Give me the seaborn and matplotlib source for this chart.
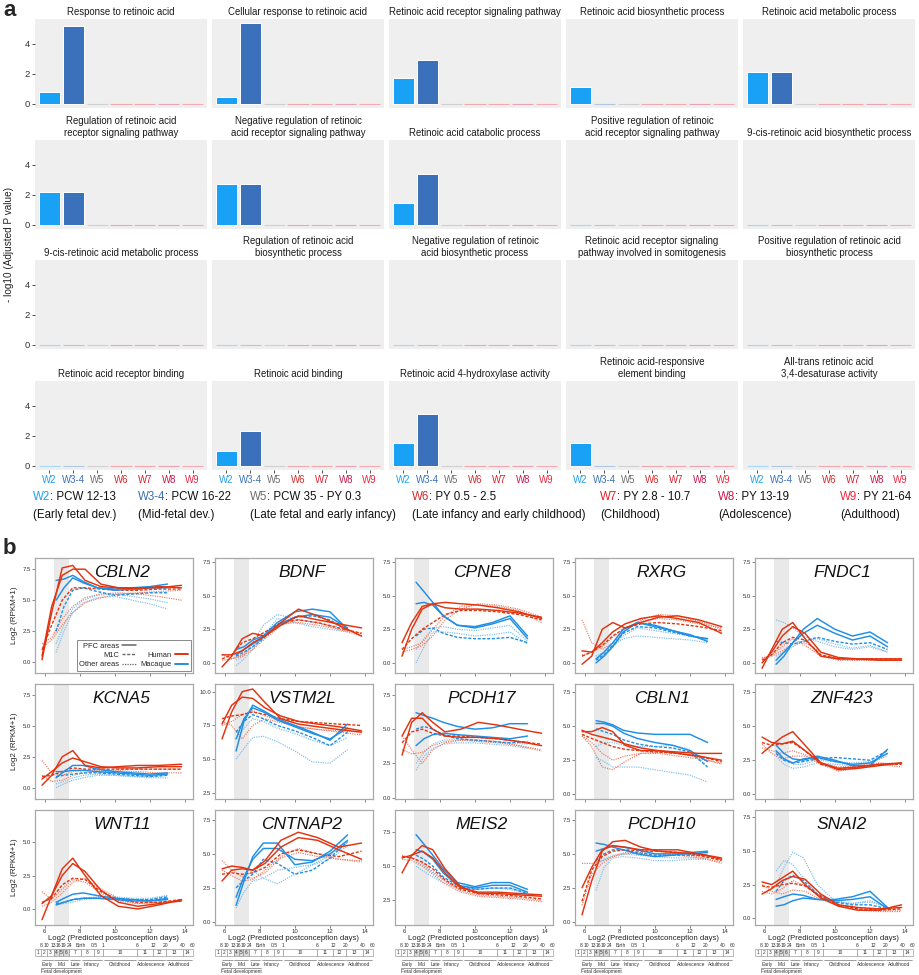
import numpy as np
import pandas as pd
import matplotlib
matplotlib.use("Agg")
import matplotlib.pyplot as plt
import seaborn as sns
from matplotlib.lines import Line2D
from matplotlib.patches import Rectangle
from matplotlib.transforms import blended_transform_factory
import matplotlib.colors as mcolors

sns.set_theme(style="white")
plt.rcParams["font.family"] = ["Liberation Sans", "DejaVu Sans"]

# ------------------------------------------------------------------ panel a data
WINDOWS = ["W2", "W3-4", "W5", "W6", "W7", "W8", "W9"]
GO_TERMS = [
    "Response to retinoic acid",
    "Cellular response to retinoic acid",
    "Retinoic acid receptor signaling pathway",
    "Retinoic acid biosynthetic process",
    "Retinoic acid metabolic process",
    "Regulation of retinoic acid\nreceptor signaling pathway",
    "Negative regulation of retinoic\nacid receptor signaling pathway",
    "Retinoic acid catabolic process",
    "Positive regulation of retinoic\nacid receptor signaling pathway",
    "9-cis-retinoic acid biosynthetic process",
    "9-cis-retinoic acid metabolic process",
    "Regulation of retinoic acid\nbiosynthetic process",
    "Negative regulation of retinoic\nacid biosynthetic process",
    "Retinoic acid receptor signaling\npathway involved in somitogenesis",
    "Positive regulation of retinoic acid\nbiosynthetic process",
    "Retinoic acid receptor binding",
    "Retinoic acid binding",
    "Retinoic acid 4-hydroxylase activity",
    "Retinoic acid-responsive\nelement binding",
    "All-trans retinoic acid\n3,4-desaturase activity",
]
W2_VALUES = [0.8, 0.45, 1.7, 1.15, 2.15, 2.2, 2.75, 1.45, 0, 0,
             0, 0, 0, 0, 0, 0, 1.0, 1.5, 1.5, 0]
W34_VALUES = [5.2, 5.4, 2.95, 0, 2.15, 2.2, 2.75, 3.4, 0, 0,
              0, 0, 0, 0, 0, 0, 2.35, 3.45, 0, 0]
W5_VALUES = [0, 0, 0, 0, 0, 0, 0, 0, 0, 0, 0, 0, 0, 0, 0, 0, 0, 0, 0, 0]
W6_VALUES = [0, 0, 0, 0, 0, 0, 0, 0, 0, 0, 0, 0, 0, 0, 0, 0, 0, 0, 0, 0]
W7_VALUES = [0, 0, 0, 0, 0, 0, 0, 0, 0, 0, 0, 0, 0, 0, 0, 0, 0, 0, 0, 0]
W8_VALUES = [0, 0, 0, 0, 0, 0, 0, 0, 0, 0, 0, 0, 0, 0, 0, 0, 0, 0, 0, 0]
W9_VALUES = [0, 0, 0, 0, 0, 0, 0, 0, 0, 0, 0, 0, 0, 0, 0, 0, 0, 0, 0, 0]

WINDOW_RANGES = ["PCW 12-13", "PCW 16-22", "PCW 35 - PY 0.3", "PY 0.5 - 2.5",
                 "PY 2.8 - 10.7", "PY 13-19", "PY 21-64"]
WINDOW_STAGES = ["(Early fetal dev.)", "(Mid-fetal dev.)",
                 "(Late fetal and early infancy)",
                 "(Late infancy and early childhood)", "(Childhood)",
                 "(Adolescence)", "(Adulthood)"]

# ------------------------------------------------------------------ panel b data
HX = [5.85, 6.4, 7.0, 7.6, 8.3, 9.2, 10.2, 11.3, 12.5, 13.8]   # human ages (log2 days)
MX = [6.65, 7.1, 7.6, 8.2, 9.0, 10.0, 11.0, 12.0, 13.0]        # macaque ages (log2 days)
AREAS = ["PFC areas", "PFC areas", "M1C", "Other areas", "Other areas"]
GENES = [["CBLN2", "BDNF", "CPNE8", "RXRG", "FNDC1"],
         ["KCNA5", "VSTM2L", "PCDH17", "CBLN1", "ZNF423"],
         ["WNT11", "CNTNAP2", "MEIS2", "PCDH10", "SNAI2"]]

CBLN2_HUMAN = [[0.2, 4.0, 7.6, 7.8, 6.6, 6.1, 6.0, 6.0, 6.0, 6.2],
               [0.5, 4.5, 7.0, 7.5, 7.5, 6.3, 6.0, 5.9, 6.1, 6.0],
               [1.0, 3.0, 5.0, 6.0, 6.0, 5.9, 5.8, 5.8, 5.9, 5.9],
               [1.5, 2.0, 3.5, 4.5, 5.2, 5.5, 5.6, 5.5, 5.3, 5.0],
               [1.2, 1.8, 3.0, 4.0, 4.8, 5.2, 5.5, 5.6, 5.7, 5.8]]
CBLN2_MACAQUE = [[6.6, 6.7, 7.0, 6.5, 6.0, 5.9, 6.0, 6.1, 6.3],
                 [5.0, 6.0, 6.8, 6.4, 6.0, 5.8, 5.9, 6.0, 6.0],
                 [2.5, 4.5, 5.8, 6.0, 5.7, 5.4, 5.5, 5.6, 5.6],
                 [0.8, 2.5, 4.0, 4.8, 5.2, 5.3, 5.0, 4.7, 4.3],
                 [1.5, 3.0, 4.3, 5.0, 5.4, 5.5, 5.3, 5.1, 4.8]]
BDNF_HUMAN = [[-0.3, 0.5, 1.8, 2.2, 2.0, 3.0, 4.0, 3.5, 2.8, 2.0],
              [0.6, 0.6, 0.9, 1.5, 2.0, 2.8, 3.5, 3.2, 2.9, 2.6],
              [0.3, 0.6, 1.5, 1.8, 2.3, 3.0, 3.2, 3.0, 2.6, 2.2],
              [0.6, 0.3, 0.5, 1.0, 1.8, 2.8, 3.2, 3.0, 2.5, 2.0],
              [0.2, 0.3, 0.6, 1.2, 2.0, 2.9, 3.0, 2.8, 2.5, 2.2]]
BDNF_MACAQUE = [[1.0, 1.2, 1.7, 2.0, 3.0, 3.8, 4.0, 3.8, 2.5],
                [0.6, 1.0, 1.4, 1.9, 2.8, 3.4, 3.6, 3.4, 2.6],
                [0.5, 0.8, 1.2, 1.8, 2.8, 3.4, 3.5, 3.2, 2.4],
                [-0.2, 0.3, 1.0, 2.0, 3.3, 3.0, 2.7, 2.5, 2.3],
                [0.2, 0.5, 1.5, 2.8, 3.6, 3.3, 3.0, 2.8, 2.5]]
CPNE8_HUMAN = [[0.5, 2.5, 4.0, 4.4, 4.5, 4.4, 4.3, 4.1, 3.8, 3.3],
               [1.5, 3.0, 4.2, 4.4, 4.1, 4.0, 4.0, 3.9, 3.7, 3.4],
               [1.0, 1.8, 2.5, 3.0, 3.6, 3.9, 3.9, 3.8, 3.6, 3.2],
               [1.0, 1.2, 1.5, 2.5, 3.5, 4.2, 4.3, 4.2, 3.9, 3.0],
               [0.8, 1.0, 1.3, 2.0, 3.2, 4.0, 4.4, 4.3, 4.0, 3.4]]
CPNE8_MACAQUE = [[6.0, 5.3, 4.5, 3.5, 2.8, 2.7, 3.0, 3.5, 2.0],
                 [4.4, 4.5, 4.3, 3.5, 2.8, 2.6, 2.9, 3.3, 1.8],
                 [2.0, 2.5, 2.6, 2.2, 1.9, 1.8, 1.8, 1.9, 1.5],
                 [0.0, 1.2, 2.3, 2.3, 2.2, 2.0, 2.1, 2.3, 1.4],
                 [1.0, 1.8, 2.6, 2.7, 2.5, 2.4, 2.6, 2.8, 1.6]]
RXRG_HUMAN = [[-0.1, 0.5, 2.5, 3.0, 2.6, 3.0, 3.4, 3.5, 3.2, 2.7],
              [0.9, 0.8, 1.5, 2.3, 2.9, 3.3, 3.5, 3.3, 3.0, 2.2],
              [0.5, 0.8, 1.3, 2.0, 2.6, 2.9, 3.0, 2.9, 2.7, 2.4],
              [3.2, 1.5, 1.0, 1.5, 2.4, 3.2, 3.6, 3.5, 3.1, 2.5],
              [0.6, 0.8, 1.2, 1.9, 2.6, 3.1, 3.3, 3.2, 2.9, 2.6]]
RXRG_MACAQUE = [[0.0, 0.5, 1.2, 2.3, 3.0, 2.8, 2.4, 2.0, 1.8],
                [0.3, 0.8, 1.5, 2.5, 3.0, 2.7, 2.4, 2.1, 1.6],
                [0.2, 0.6, 1.3, 2.2, 2.7, 2.6, 2.3, 2.0, 1.8],
                [0.5, 0.8, 1.3, 1.8, 2.0, 1.9, 1.8, 1.7, 1.5],
                [0.3, 0.6, 1.2, 2.0, 2.6, 2.4, 2.2, 2.0, 1.7]]
FNDC1_HUMAN = [[-0.4, 1.0, 2.5, 3.0, 1.8, 0.5, 0.3, 0.3, 0.2, 0.2],
               [0.0, 0.8, 2.0, 2.7, 2.2, 0.8, 0.4, 0.3, 0.3, 0.3],
               [0.2, 0.6, 1.5, 1.9, 1.7, 0.6, 0.3, 0.3, 0.3, 0.3],
               [0.4, 0.5, 0.9, 1.4, 1.5, 0.8, 0.3, 0.2, 0.2, 0.2],
               [0.3, 0.6, 1.2, 1.8, 1.3, 0.5, 0.2, 0.2, 0.2, 0.2]]
FNDC1_MACAQUE = [[-0.1, 0.5, 1.5, 2.5, 3.3, 2.5, 2.0, 2.3, 1.5],
                 [0.2, 0.8, 1.5, 2.2, 2.8, 2.2, 1.7, 2.0, 1.2],
                 [1.6, 1.5, 1.4, 1.6, 1.9, 1.6, 1.4, 1.5, 1.0],
                 [3.2, 3.0, 2.6, 2.0, 1.6, 1.2, 1.0, 1.2, 0.8],
                 [0.5, 0.8, 1.2, 1.6, 1.8, 1.4, 1.1, 1.3, 0.8]]
KCNA5_HUMAN = [[0.2, 1.0, 2.5, 3.0, 1.8, 1.6, 1.7, 1.8, 1.8, 1.9],
               [0.7, 1.3, 2.0, 2.4, 2.1, 1.7, 1.6, 1.6, 1.7, 1.7],
               [0.9, 1.0, 1.3, 1.6, 1.5, 1.5, 1.5, 1.5, 1.5, 1.5],
               [2.2, 1.2, 1.0, 1.3, 1.4, 1.4, 1.4, 1.5, 1.5, 1.5],
               [1.0, 0.5, 0.6, 1.0, 1.2, 1.3, 1.3, 1.3, 1.2, 1.2]]
KCNA5_MACAQUE = [[1.3, 1.3, 1.4, 1.4, 1.3, 1.2, 1.1, 1.0, 1.1],
                 [0.8, 1.3, 1.8, 1.8, 1.5, 1.3, 1.2, 1.1, 1.2],
                 [0.9, 1.0, 1.1, 1.2, 1.2, 1.1, 1.0, 0.9, 1.0],
                 [0.0, 0.3, 0.6, 0.8, 1.0, 1.0, 0.9, 0.8, 0.8],
                 [0.3, 0.5, 0.8, 1.0, 1.1, 1.0, 0.9, 0.9, 1.0]]
VSTM2L_HUMAN = [[6.5, 8.5, 10.0, 10.2, 9.2, 8.0, 7.6, 7.4, 7.2, 7.0],
                [7.6, 9.0, 9.6, 9.5, 8.8, 8.2, 7.8, 7.6, 7.4, 7.1],
                [8.0, 8.2, 8.3, 8.5, 8.3, 8.0, 7.8, 7.7, 7.6, 7.5],
                [7.8, 7.5, 6.5, 7.5, 8.0, 7.7, 7.4, 7.2, 7.1, 7.0],
                [7.5, 7.8, 8.3, 8.6, 8.2, 7.8, 7.4, 7.2, 7.0, 6.8]]
VSTM2L_MACAQUE = [[5.6, 7.8, 9.0, 8.6, 8.0, 7.5, 7.0, 6.4, 7.6],
                  [6.5, 8.0, 8.8, 8.5, 7.9, 7.4, 6.9, 6.5, 7.3],
                  [7.0, 7.8, 8.3, 8.0, 7.5, 7.1, 6.6, 6.0, 7.0],
                  [5.0, 5.8, 6.6, 6.7, 6.3, 5.6, 4.8, 4.7, 5.7],
                  [6.5, 7.3, 8.0, 7.8, 7.3, 6.9, 6.4, 6.0, 6.6]]
PCDH17_HUMAN = [[3.1, 5.5, 6.2, 5.5, 4.8, 5.0, 5.5, 5.3, 5.0, 4.7],
                [4.5, 5.8, 5.8, 5.0, 4.5, 4.4, 4.4, 4.3, 4.1, 3.8],
                [4.0, 4.8, 5.0, 4.7, 4.5, 4.5, 4.4, 4.3, 4.1, 3.9],
                [4.5, 3.5, 2.5, 3.5, 4.0, 4.2, 4.2, 4.1, 3.8, 3.4],
                [3.5, 3.2, 3.3, 3.8, 4.1, 4.2, 4.1, 4.0, 3.8, 3.5]]
PCDH17_MACAQUE = [[3.8, 4.3, 4.6, 4.7, 4.6, 4.5, 4.4, 4.3, 4.5],
                  [6.2, 6.0, 5.8, 5.5, 5.2, 5.0, 5.1, 5.4, 5.4],
                  [5.0, 5.2, 5.0, 4.6, 4.3, 4.2, 4.1, 4.0, 4.1],
                  [2.0, 3.0, 3.6, 3.9, 4.0, 4.0, 3.9, 3.8, 3.6],
                  [2.5, 3.3, 3.9, 4.2, 4.3, 4.2, 4.1, 4.0, 3.9]]
CBLN1_HUMAN = [[4.6, 4.6, 4.9, 4.6, 3.6, 3.2, 3.2, 3.1, 3.0, 3.0],
               [4.7, 4.4, 4.2, 4.0, 3.7, 3.4, 3.2, 3.0, 2.8, 2.5],
               [4.4, 4.1, 3.8, 3.5, 3.3, 3.2, 3.1, 3.0, 2.8, 2.4],
               [4.3, 3.5, 2.0, 1.8, 2.4, 3.0, 3.1, 3.0, 2.7, 2.2],
               [4.3, 3.8, 3.0, 2.5, 2.8, 3.0, 3.0, 2.8, 2.6, 2.3]]
CBLN1_MACAQUE = [[5.4, 5.3, 5.1, 4.7, 4.5, 4.4, 4.4, 4.4, 3.8],
                 [5.2, 5.2, 5.0, 4.5, 4.1, 3.8, 3.6, 3.2, 2.4],
                 [4.8, 4.6, 4.4, 4.0, 3.7, 3.5, 3.4, 3.1, 2.0],
                 [2.7, 2.4, 2.0, 2.0, 2.0, 1.8, 1.6, 1.4, 0.9],
                 [3.5, 3.8, 3.8, 3.6, 3.5, 3.5, 3.6, 3.3, 2.0]]
ZNF423_HUMAN = [[3.0, 3.6, 4.2, 4.6, 3.6, 2.3, 1.8, 1.9, 2.1, 2.3],
                [4.2, 3.8, 3.7, 3.9, 3.2, 2.3, 1.9, 2.0, 2.2, 2.3],
                [3.8, 3.6, 3.7, 3.8, 3.2, 2.2, 1.9, 2.0, 2.2, 2.2],
                [3.7, 3.0, 2.6, 2.8, 2.8, 2.2, 1.7, 1.9, 2.2, 2.0],
                [3.4, 3.2, 3.0, 3.2, 2.9, 2.3, 2.0, 2.1, 2.3, 2.2]]
ZNF423_MACAQUE = [[3.6, 3.0, 2.6, 2.5, 2.8, 2.5, 2.1, 2.1, 3.3],
                  [3.2, 2.6, 2.3, 2.6, 2.7, 2.4, 2.2, 2.3, 3.0],
                  [3.0, 2.5, 2.3, 2.4, 2.6, 2.7, 2.6, 2.5, 3.2],
                  [2.8, 2.2, 1.9, 2.0, 2.3, 2.2, 2.1, 2.3, 2.8],
                  [3.1, 2.5, 2.2, 2.2, 2.5, 2.4, 2.3, 2.4, 3.0]]
WNT11_HUMAN = [[-0.8, 1.0, 3.0, 3.8, 2.5, 1.0, 0.2, 0.0, 0.3, 0.7],
               [0.4, 1.0, 2.5, 3.4, 2.8, 1.4, 0.5, 0.2, 0.4, 0.6],
               [0.5, 0.8, 1.8, 2.3, 2.2, 1.3, 0.7, 0.5, 0.5, 0.7],
               [1.3, 0.7, 1.5, 2.2, 2.0, 1.2, 0.6, 0.4, 0.5, 0.6],
               [0.2, 0.5, 1.2, 2.0, 2.3, 1.5, 0.8, 0.4, 0.5, 0.6]]
WNT11_MACAQUE = [[0.5, 0.8, 1.1, 1.2, 1.0, 0.8, 0.7, 0.6, 0.8],
                 [0.3, 0.5, 0.7, 0.8, 0.8, 0.7, 0.6, 0.6, 0.7],
                 [0.4, 0.5, 0.7, 0.8, 0.8, 0.8, 0.7, 0.7, 0.9],
                 [0.4, 0.5, 0.7, 0.8, 0.9, 0.9, 0.8, 0.8, 1.0],
                 [0.3, 0.4, 0.5, 0.7, 0.8, 0.8, 0.7, 0.7, 1.0]]
CNTNAP2_HUMAN = [[3.0, 3.8, 3.9, 3.8, 4.5, 6.0, 6.6, 6.2, 5.5, 5.8],
                 [3.9, 4.1, 4.0, 3.8, 4.3, 5.5, 6.2, 6.0, 5.3, 4.6],
                 [3.5, 3.6, 3.5, 3.6, 4.0, 5.0, 5.3, 5.0, 4.8, 5.2],
                 [4.5, 3.8, 3.3, 3.2, 3.6, 4.7, 5.1, 4.8, 4.6, 4.5],
                 [3.8, 3.4, 3.0, 3.1, 3.8, 4.8, 5.4, 5.0, 4.6, 4.4]]
CNTNAP2_MACAQUE = [[1.2, 3.0, 4.8, 5.8, 5.8, 4.2, 4.4, 5.2, 6.4],
                   [1.8, 3.3, 4.6, 5.4, 5.4, 4.6, 4.5, 5.0, 6.0],
                   [2.5, 3.0, 3.5, 4.6, 4.3, 3.5, 3.8, 4.7, 5.9],
                   [1.0, 2.2, 3.0, 3.2, 3.8, 4.0, 4.2, 4.6, 5.6],
                   [2.5, 3.2, 3.8, 3.2, 2.8, 3.5, 4.2, 4.9, 5.8]]
MEIS2_HUMAN = [[4.5, 5.8, 6.5, 6.2, 4.8, 3.5, 3.0, 3.0, 2.9, 2.8],
               [5.6, 5.8, 6.1, 5.6, 4.5, 3.4, 3.1, 3.1, 3.0, 2.9],
               [5.7, 5.6, 5.3, 4.8, 4.0, 3.3, 3.0, 2.9, 2.8, 2.6],
               [5.5, 5.4, 5.0, 4.4, 3.7, 3.1, 2.8, 2.7, 2.6, 2.4],
               [5.8, 5.6, 5.2, 4.6, 3.9, 3.2, 2.9, 2.8, 2.7, 2.5]]
MEIS2_MACAQUE = [[7.3, 6.6, 5.8, 4.8, 3.8, 3.5, 3.8, 3.8, 3.3],
                 [6.2, 6.0, 5.5, 4.5, 3.6, 3.4, 3.6, 3.6, 3.1],
                 [5.8, 5.5, 5.0, 4.2, 3.6, 3.3, 3.4, 3.4, 3.0],
                 [5.0, 4.6, 4.2, 3.8, 3.4, 3.3, 3.4, 3.3, 3.0],
                 [5.3, 5.0, 4.5, 4.0, 3.5, 3.3, 3.4, 3.4, 3.1]]
PCDH10_HUMAN = [[0.5, 3.0, 5.2, 5.9, 6.0, 5.5, 5.2, 5.1, 5.0, 4.7],
                [2.5, 4.0, 5.3, 5.6, 5.5, 5.3, 5.3, 5.3, 5.0, 4.6],
                [1.5, 3.8, 4.8, 5.2, 5.3, 5.2, 5.2, 5.1, 4.9, 4.5],
                [4.3, 4.3, 4.5, 4.8, 5.0, 5.1, 5.2, 5.0, 4.8, 4.3],
                [1.2, 3.5, 4.3, 4.8, 5.1, 5.0, 5.0, 4.9, 4.7, 4.4]]
PCDH10_MACAQUE = [[5.8, 5.7, 5.5, 5.3, 5.0, 4.8, 4.9, 5.1, 5.2],
                  [5.2, 5.4, 5.6, 5.5, 5.3, 5.0, 5.0, 5.0, 5.1],
                  [4.5, 5.0, 5.3, 5.3, 5.1, 4.9, 4.9, 4.9, 4.9],
                  [2.3, 4.0, 4.7, 4.8, 4.7, 4.5, 4.5, 4.6, 4.6],
                  [4.2, 4.6, 4.9, 5.0, 4.9, 4.8, 4.7, 4.7, 4.7]]
SNAI2_HUMAN = [[2.7, 2.5, 3.0, 3.5, 2.5, 1.5, 0.9, 0.6, 0.6, 1.0],
               [1.8, 2.2, 2.8, 3.1, 2.9, 1.8, 1.0, 0.8, 0.7, 0.8],
               [2.4, 2.3, 2.5, 2.6, 2.4, 1.6, 1.0, 0.7, 0.6, 0.7],
               [2.0, 1.8, 2.2, 2.8, 2.4, 1.6, 0.9, 0.6, 0.5, 0.5],
               [2.5, 2.0, 1.8, 2.1, 2.0, 1.4, 1.0, 0.7, 0.6, 0.6]]
SNAI2_MACAQUE = [[1.4, 1.6, 1.8, 1.7, 1.4, 1.4, 1.6, 2.0, 0.8],
                 [0.9, 1.0, 1.3, 1.5, 1.4, 1.3, 1.4, 1.6, 0.7],
                 [2.0, 2.8, 3.2, 2.8, 1.8, 1.2, 1.0, 1.0, 0.7],
                 [2.5, 3.8, 4.9, 4.5, 2.5, 1.3, 1.1, 1.2, 0.9],
                 [3.5, 4.3, 4.0, 3.0, 1.8, 1.2, 1.1, 1.3, 0.8]]

# developmental timeline (log2 postconception days of period boundaries)
AGE_EDGES = [5.807, 6.129, 6.508, 6.807, 7.055, 7.392, 8.055, 8.809, 9.302,
             11.263, 12.183, 12.886, 13.861, 14.437]
AGE_LABELS = ["8", "10", "13", "16", "19", "24", "Birth", "0.5", "1", "6",
              "12", "20", "40", "60"]
PERIODS = ["1", "2", "3", "4", "5", "6", "7", "8", "9", "10", "11", "12", "13", "14"]
STAGES = ["Early", "Mid", "Late", "Infancy", "Childhood", "Adolescence", "Adulthood"]
STAGE_SPANS = [(5.807, 6.508), (6.508, 7.392), (7.392, 8.055), (8.055, 9.302),
               (9.302, 11.263), (11.263, 12.886), (12.886, 14.437)]

# ------------------------------------------------------------------ styling
W_FIG, H_FIG = 920, 975
fig = plt.figure(figsize=(W_FIG / 100, H_FIG / 100), dpi=100)
fig.patch.set_facecolor("white")


def rect(left, top, w, h):
    return [left / W_FIG, 1 - (top + h) / H_FIG, w / W_FIG, h / H_FIG]


ov = fig.add_axes([0, 0, 1, 1], zorder=-5)
ov.set_xlim(0, W_FIG)
ov.set_ylim(H_FIG, 0)
ov.axis("off")

BAR_COLORS = ["#19A2F5", "#3A71BA", "#8A8A8A", "#D8262C", "#E6232F", "#C91A4B", "#F12A3F"]
LABEL_COLORS = ["#1E9FF2", "#3A6FB8", "#6E6E6E", "#D42A2A", "#E31B2B", "#C8174A", "#F0243C"]


def lighten(c, f=0.55):
    r, g, b = mcolors.to_rgb(c)
    return (r + (1 - r) * f, g + (1 - g) * f, b + (1 - b) * f)


A_LEFT = [35, 212, 389, 566, 743]
A_TOP = [19, 140, 260, 381]
A_W, A_H = 172, 89

all_vals = [W2_VALUES, W34_VALUES, W5_VALUES, W6_VALUES, W7_VALUES, W8_VALUES, W9_VALUES]
for i, term in enumerate(GO_TERMS):
    r, c = divmod(i, 5)
    ax = fig.add_axes(rect(A_LEFT[c], A_TOP[r], A_W, A_H))
    df = pd.DataFrame({"window": WINDOWS, "value": [v[i] for v in all_vals]})
    sns.barplot(data=df, x="window", y="value", hue="window", palette=BAR_COLORS,
                order=WINDOWS, hue_order=WINDOWS, ax=ax, legend=False,
                width=0.88, saturation=1, edgecolor="white", linewidth=0.7)
    for p, col in zip(ax.patches, BAR_COLORS):
        if p.get_height() == 0:
            p.set_edgecolor(lighten(col, 0.6))
            p.set_linewidth(0.8)
    ax.set_facecolor("#EFEFEF")
    for s in ax.spines.values():
        s.set_visible(False)
    ax.set_ylim(-0.27, 5.66)
    ax.set_xlim(-0.6, 6.6)
    ax.set_xlabel("")
    ax.set_ylabel("")
    ax.set_title(term, fontsize=6.9, color="#1a1a1a", pad=3.0, linespacing=1.2)
    ax.set_yticks([0, 2, 4])
    if c == 0:
        ax.tick_params(axis="y", length=2, width=0.6, color="#333", labelsize=6.8,
                       pad=1.5, left=True, labelcolor="#333")
    else:
        ax.tick_params(axis="y", left=False, labelleft=False)
    if r == 3:
        ax.tick_params(axis="x", length=2, width=0.6, color="#333", labelsize=6.9,
                       pad=1.5, bottom=True)
        for lab, col in zip(ax.get_xticklabels(), LABEL_COLORS):
            lab.set_color(col)
    else:
        ax.tick_params(axis="x", bottom=False, labelbottom=False)

ov.text(9, 245, "- log10 (Adjusted P value)", rotation=90, ha="center", va="center",
        fontsize=7.2, color="#222")
ov.text(3, 10, "a", fontsize=16, fontweight="bold", ha="left", va="center")
ov.text(3, 548, "b", fontsize=16, fontweight="bold", ha="left", va="center")

LEG_X = [33, 138, 250, 412, 600, 718, 840]
for k in range(7):
    t1 = ov.text(LEG_X[k], 497, WINDOWS[k], color=LABEL_COLORS[k], fontsize=8.3,
                 ha="left", va="center")
    ov.annotate(": " + WINDOW_RANGES[k], xy=(1, 0.5), xycoords=t1, ha="left",
                va="center", fontsize=8.3, color="#111")
    ov.text(LEG_X[k], 515, WINDOW_STAGES[k], fontsize=8.3, color="#111",
            ha="left", va="center")

# ------------------------------------------------------------------ panel b
B_LEFT = [35, 215, 395, 575, 755]
B_TOP = [558, 684, 810]
B_W, B_H = 158, 115

YLIM = {"CBLN2": (-0.86, 8.4), "BDNF": (-0.75, 7.8), "CPNE8": (-0.75, 7.8),
        "RXRG": (-0.75, 7.8), "FNDC1": (-0.75, 7.8), "KCNA5": (-0.92, 8.4),
        "VSTM2L": (2.05, 10.57), "PCDH17": (-0.1, 8.3), "CBLN1": (-0.35, 8.1),
        "ZNF423": (-0.35, 8.1), "WNT11": (-1.2, 7.4), "CNTNAP2": (-0.25, 8.24),
        "MEIS2": (0.7, 9.1), "PCDH10": (-0.25, 8.24), "SNAI2": (-0.5, 8.04)}
YTICKS = {"VSTM2L": [2.5, 5.0, 7.5, 10.0], "WNT11": [0.0, 2.5, 5.0],
          "MEIS2": [2.5, 5.0, 7.5]}

RED, BLUE = "#E2330F", "#1F8FE5"
STYLE = {
    ("Human", "PFC areas"): dict(color=RED, lw=1.05, ls="-", z=5),
    ("Human", "M1C"): dict(color=RED, lw=1.0, ls=(0, (2.2, 1.2)), z=4),
    ("Human", "Other areas"): dict(color=lighten(RED, 0.35), lw=0.85, ls=(0, (1, 1)), z=3),
    ("Macaque", "PFC areas"): dict(color=BLUE, lw=1.05, ls="-", z=5),
    ("Macaque", "M1C"): dict(color=BLUE, lw=1.0, ls=(0, (2.2, 1.2)), z=4),
    ("Macaque", "Other areas"): dict(color=lighten(BLUE, 0.4), lw=0.85, ls=(0, (1, 1)), z=3),
}

g = globals()
for r, row in enumerate(GENES):
    for c, gene in enumerate(row):
        ax = fig.add_axes(rect(B_LEFT[c], B_TOP[r], B_W, B_H))
        ax.set_facecolor("white")
        ax.axvspan(6.55, 7.4, color="#E9E9E9", lw=0, zorder=0)
        recs = []
        for sp, xs, curves in (("Human", HX, g[gene + "_HUMAN"]),
                               ("Macaque", MX, g[gene + "_MACAQUE"])):
            for ci, (area, ys) in enumerate(zip(AREAS, curves)):
                for xv, yv in zip(xs, ys):
                    recs.append((sp, area, f"{sp}{ci}", xv, yv))
        df = pd.DataFrame(recs, columns=["species", "area", "curve", "age", "expr"])
        order = ["Other areas", "M1C", "PFC areas"]
        for area in order:
            for sp in ("Macaque", "Human"):
                sub = df[(df.species == sp) & (df.area == area)]
                stl = STYLE[(sp, area)]
                for cid, cdf in sub.groupby("curve", sort=False):
                    sns.lineplot(data=cdf, x="age", y="expr", ax=ax, color=stl["color"],
                                 lw=stl["lw"], linestyle=stl["ls"], legend=False,
                                 estimator=None, sort=False, zorder=stl["z"])
        ax.set_xlim(5.45, 14.45)
        ax.set_ylim(*YLIM[gene])
        yt = YTICKS.get(gene, [0.0, 2.5, 5.0, 7.5])
        ax.set_yticks(yt)
        ax.set_yticklabels([f"{v:.1f}" for v in yt])
        ax.set_xticks([6, 8, 10, 12, 14])
        for s in ax.spines.values():
            s.set_color("#A8A8A8")
            s.set_linewidth(0.9)
        ax.tick_params(axis="both", length=2, width=0.5, color="#555", labelsize=4.3,
                       pad=1, labelcolor="#333", left=True, bottom=True)
        ax.set_xlabel("")
        ax.set_ylabel("")
        if c == 0:
            ax.set_ylabel("Log2 (RPKM+1)", fontsize=5.8, color="#222", labelpad=3)
        if r < 2:
            ax.tick_params(axis="x", labelbottom=False)
        else:
            ax.set_xlabel("Log2 (Predicted postconception days)", fontsize=5.6,
                          color="#222", labelpad=0.5)
            tr = blended_transform_factory(ax.transData, ax.transAxes)
            edges = [5.45] + AGE_EDGES
            for k, lab in enumerate(AGE_LABELS):
                ax.text(AGE_EDGES[k], -0.175, lab, transform=tr, fontsize=3.6,
                        ha="center", va="center", color="#333", clip_on=False)
            for k, pl in enumerate(PERIODS):
                x0, x1 = edges[k], edges[k + 1]
                fc = "#D8D8D8" if pl in ("4", "5", "6") else "white"
                ax.add_patch(Rectangle((x0, -0.27), x1 - x0, 0.065, transform=tr,
                                       facecolor=fc, edgecolor="#888", lw=0.4,
                                       clip_on=False))
                ax.text((x0 + x1) / 2, -0.2375, pl, transform=tr, fontsize=3.4,
                        ha="center", va="center", color="#333", clip_on=False)
            for st, (x0, x1) in zip(STAGES, STAGE_SPANS):
                ax.plot([x0 + 0.05, x1 - 0.05], [-0.305, -0.305], transform=tr,
                        color="#555", lw=0.4, clip_on=False)
                ax.text((x0 + x1) / 2, -0.34, st, transform=tr, fontsize=3.5,
                        ha="center", va="center", color="#333", clip_on=False)
            ax.plot([5.807, 8.055], [-0.37, -0.37], transform=tr, color="#555",
                    lw=0.4, clip_on=False)
            ax.text(6.93, -0.40, "Fetal development", transform=tr, fontsize=3.5,
                    ha="center", va="center", color="#333", clip_on=False)
        ax.text(0.55, 0.87, gene, transform=ax.transAxes, ha="center", va="center",
                fontsize=12.5, style="italic", color="#111", zorder=10)
        if gene == "CBLN2":
            handles = [Line2D([], [], color="#666", lw=1.1, ls="-"),
                       Line2D([], [], color="#666", lw=1.0, ls=(0, (2.2, 1.2))),
                       Line2D([], [], color="#666", lw=0.9, ls=(0, (1, 1))),
                       Line2D([], [], alpha=0),
                       Line2D([], [], color=RED, lw=1.4),
                       Line2D([], [], color=BLUE, lw=1.4)]
            labels = ["PFC areas", "M1C", "Other areas", "", "Human", "Macaque"]
            leg = ax.legend(handles, labels, ncol=2, loc="lower right", fontsize=5.4,
                            markerfirst=False, frameon=True, handlelength=1.8,
                            handletextpad=0.4, columnspacing=0.6, labelspacing=0.25,
                            borderpad=0.35, borderaxespad=0.3, fancybox=False)
            leg.get_frame().set_edgecolor("#555")
            leg.get_frame().set_linewidth(0.6)
            leg.set_zorder(20)

fig.savefig("out.png", dpi=100, facecolor="white")
